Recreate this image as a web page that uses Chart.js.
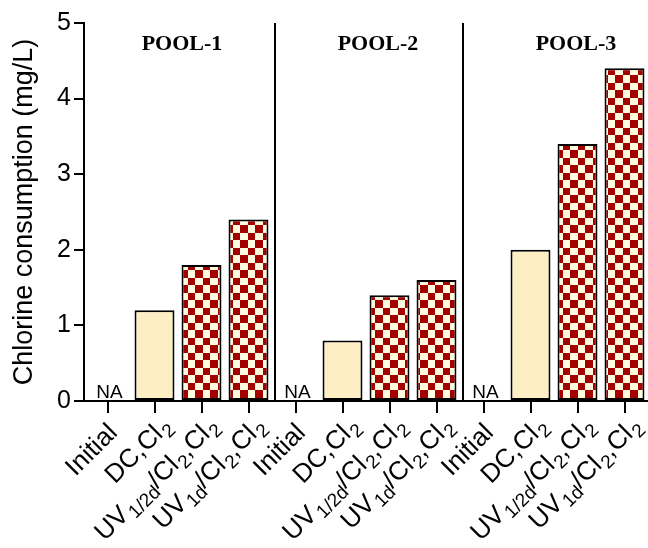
<!DOCTYPE html>
<html><head><meta charset="utf-8">
<script src="https://cdn.jsdelivr.net/npm/chart.js@4.4.0/dist/chart.umd.min.js"></script>
<style>html,body{margin:0;padding:0;background:#fff;overflow:hidden}</style>
</head><body><canvas id="c" width="648" height="548"></canvas>
<script>
// ---- data ----
const groups = ['POOL-1', 'POOL-2', 'POOL-3'];
const treatments = ['Initial', 'DC,Cl_{2}', 'UV_{1/2d}/Cl_{2},Cl_{2}', 'UV_{1d}/Cl_{2},Cl_{2}'];
const pool1 = [null, 1.2, 1.8, 2.4];
const pool2 = [null, 0.8, 1.4, 1.6];
const pool3 = [null, 2.0, 3.4, 4.4];
const yTicks = [0, 1, 2, 3, 4, 5];
const yTitle = 'Chlorine consumption (mg/L)';
const naLabel = 'NA';

const categories = [...treatments, ...treatments, ...treatments];
const values = [...pool1, ...pool2, ...pool3];

const canvas = document.getElementById('c');
const ctx0 = canvas.getContext('2d');

function makeChecker() {
  const c = document.createElement('canvas'); c.width = 30; c.height = 30;
  const g = c.getContext('2d');
  g.fillStyle = '#fffbe0'; g.fillRect(0, 0, 30, 30);
  const b = [0, 8, 15, 23, 30];
  g.fillStyle = '#a30000';
  for (let i = 0; i < 4; i++) for (let j = 0; j < 4; j++)
    if ((i + j) % 2 === 0) g.fillRect(b[i], b[j], b[i + 1] - b[i], b[j + 1] - b[j]);
  return ctx0.createPattern(c, 'repeat');
}
const checker = makeChecker();
const beige = '#fdeec3';
const fills = categories.map((_, i) => (i % 4 === 1 ? beige : (i % 4 === 0 ? 'rgba(0,0,0,0)' : checker)));

const SANS = '"Liberation Sans", Arial, sans-serif';
const MAIN = 26, SUB = 19, GAP = 1.5;
function segs(s) {
  const out = []; const re = /_\{([^}]*)\}/g; let last = 0, m;
  while ((m = re.exec(s))) {
    if (m.index > last) out.push({ t: s.slice(last, m.index), sub: false });
    out.push({ t: m[1], sub: true }); last = re.lastIndex;
  }
  if (last < s.length) out.push({ t: s.slice(last), sub: false });
  return out;
}

const overlay = {
  id: 'overlay',
  afterDraw(chart) {
    const ctx = chart.ctx, xs = chart.scales.x, ys = chart.scales.y, ca = chart.chartArea;
    ctx.save();
    // x labels with subscripts
    categories.forEach((lab, i) => {
      const parts = segs(lab);
      const hasSub = parts.some(p => p.sub);
      const x = xs.getPixelForValue(i) + 11, y = xs.top + 33;
      let w = 0;
      parts.forEach(p => { ctx.font = (p.sub ? SUB : MAIN) + 'px ' + SANS; p.w = ctx.measureText(p.t).width + (p.sub ? GAP : 0); w += p.w; });
      ctx.save(); ctx.translate(x, y); ctx.rotate(-Math.PI / 4);
      ctx.fillStyle = '#000'; ctx.textBaseline = 'alphabetic'; ctx.textAlign = 'left';
      let cx = -w + (hasSub ? 10 : 0);
      parts.forEach(p => {
        ctx.font = (p.sub ? SUB : MAIN) + 'px ' + SANS;
        ctx.fillText(p.t, cx + (p.sub ? GAP : 0), p.sub ? 6 : 0);
        cx += p.w;
      });
      ctx.restore();
    });
    // NA labels
    ctx.font = '19px ' + SANS; ctx.textAlign = 'center'; ctx.textBaseline = 'alphabetic'; ctx.fillStyle = '#000';
    values.forEach((v, i) => { if (v === null) ctx.fillText(naLabel, xs.getPixelForValue(i) + 2, ys.getPixelForValue(0) - 3); });
    // dividers
    ctx.strokeStyle = '#000'; ctx.lineWidth = 2;
    [3, 7].forEach(k => {
      const x = Math.round((xs.getPixelForValue(k) + xs.getPixelForValue(k + 1)) / 2) + 3;
      ctx.beginPath(); ctx.moveTo(x, ca.top); ctx.lineTo(x, ca.bottom); ctx.stroke();
    });
    // group labels
    ctx.font = 'bold 22px "Liberation Serif", "Times New Roman", serif';
    ctx.textAlign = 'center'; ctx.textBaseline = 'middle';
    const off = [4, 12, 22];
    groups.forEach((g, k) => ctx.fillText(g, xs.getPixelForValue(1.5 + 4 * k) + off[k], 44));
    ctx.restore();
  }
};

new Chart(canvas, {
  type: 'bar',
  data: {
    labels: categories,
    datasets: [{
      data: values,
      backgroundColor: fills,
      borderColor: '#000',
      borderWidth: 2,
      borderSkipped: false,
      barPercentage: 0.85,
      categoryPercentage: 1
    }]
  },
  options: {
    responsive: false,
    animation: false,
    devicePixelRatio: 1,
    layout: { autoPadding: false, padding: { top: 23, right: 0, left: 0, bottom: 0 } },
    plugins: { legend: { display: false }, tooltip: { enabled: false } },
    scales: {
      x: {
        offset: true,
        grid: { display: true, drawOnChartArea: false, drawTicks: true, tickLength: 12, offset: false, color: '#000', lineWidth: 2 },
        border: { display: true, color: '#000', width: 2 },
        ticks: { display: false },
        afterFit(s) { s.height = 147; }
      },
      y: {
        min: 0, max: 5,
        afterBuildTicks(s) { s.ticks = yTicks.map(v => ({ value: v })); },
        grid: { display: true, drawOnChartArea: false, drawTicks: true, tickLength: 10, color: '#000', lineWidth: 2 },
        border: { display: true, color: '#000', width: 2 },
        ticks: { font: { family: SANS, size: 25 }, color: '#000', padding: 3 },
        title: { display: true, text: yTitle, font: { family: SANS, size: 27 }, color: '#000', padding: { top: 8, bottom: 0 } },
        afterFit(s) { s.width = 84; }
      }
    }
  },
  plugins: [overlay]
});
</script>
</body></html>
